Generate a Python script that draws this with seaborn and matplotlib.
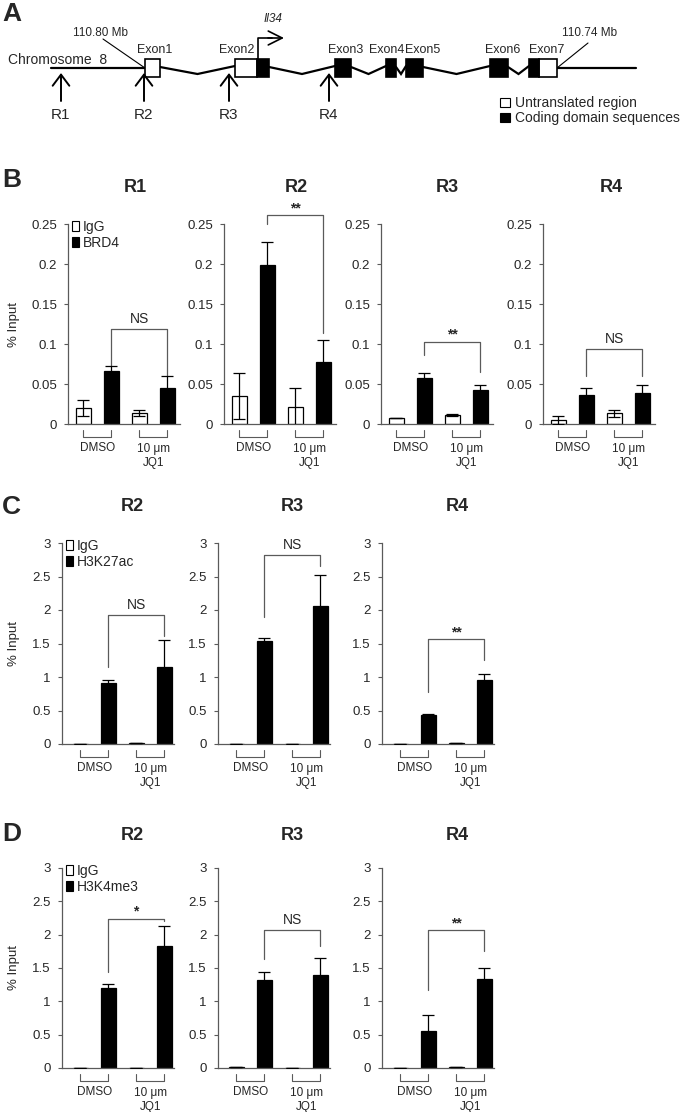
import numpy as np
import pandas as pd
import seaborn as sns
import matplotlib as mpl
import matplotlib.pyplot as plt
from matplotlib.patches import Rectangle, Patch
from matplotlib.transforms import blended_transform_factory

sns.set_style("white")
mpl.rcParams["font.family"] = ["Liberation Sans", "DejaVu Sans"]

W, H = 685, 1112  # figure size in pixels

# ---------------- data ----------------
# panel A: gene model of Il34 (schematic units = pixels)
exon_names = ["Exon1", "Exon2", "Exon3", "Exon4", "Exon5", "Exon6", "Exon7"]
exon_utr = [(145, 160), (235, 257), None, None, None, None, (539, 557)]
exon_cds = [None, (257, 269), (335, 351), (386, 396), (406, 423), (490, 508), (529, 539)]
exon_label_x = [155, 237, 346, 387, 423, 503, 547]
region_names = ["R1", "R2", "R3", "R4"]
region_x = [61, 144, 229, 329]

# panel B: BRD4 ChIP, values as (DMSO, JQ1)
b_regions = ["R1", "R2", "R3", "R4"]
b_igg = [[0.020, 0.0138], [0.035, 0.0216], [0.0075, 0.0108], [0.0054, 0.0133]]
b_igg_sd = [[0.0095, 0.004], [0.029, 0.023], [0.0005, 0.0012], [0.005, 0.004]]
b_ab = [[0.0658, 0.045], [0.199, 0.0775], [0.057, 0.042], [0.0365, 0.039]]
b_ab_sd = [[0.0063, 0.0146], [0.028, 0.0275], [0.0064, 0.007], [0.0085, 0.010]]
b_sig = ["NS", "**", "**", "NS"]
b_bracket = [(0.119, 0.072, 0.0596), (0.261, 0.25, 0.114), (0.103, 0.086, 0.0655), (0.094, 0.060, 0.060)]

# panel C: H3K27ac ChIP
c_regions = ["R2", "R3", "R4"]
c_igg = [[0.005, 0.01], [0.005, 0.005], [0.005, 0.015]]
c_igg_sd = [[0.002, 0.002], [0.002, 0.002], [0.002, 0.002]]
c_ab = [[0.907, 1.156], [1.53, 2.06], [0.427, 0.95]]
c_ab_sd = [[0.05, 0.39], [0.05, 0.46], [0.025, 0.095]]
c_sig = ["NS", "NS", "**"]
c_bracket = [(1.93, 1.156, 1.61), (2.82, 1.89, 2.65), (1.56, 0.77, 1.25)]

# panel D: H3K4me3 ChIP
d_regions = ["R2", "R3", "R4"]
d_igg = [[0.005, 0.005], [0.01, 0.005], [0.005, 0.015]]
d_igg_sd = [[0.002, 0.002], [0.002, 0.002], [0.002, 0.002]]
d_ab = [[1.2, 1.825], [1.315, 1.40], [0.55, 1.34]]
d_ab_sd = [[0.065, 0.30], [0.125, 0.255], [0.25, 0.165]]
d_sig = ["*", "NS", "**"]
d_bracket = [(2.24, 1.44, 2.2), (2.075, 1.64, 1.825), (2.065, 1.165, 1.755)]

b_ticks = [0, 0.05, 0.1, 0.15, 0.2, 0.25]
cd_ticks = [0, 0.5, 1, 1.5, 2, 2.5, 3]

AXC = "#5a5a5a"
AX_W = 112

fig = plt.figure(figsize=(W / 100, H / 100), dpi=100)


def add_ax(left, top, width, height):
    return fig.add_axes([left / W, 1 - (top + height) / H, width / W, height / H])


def chip_bars(ax, igg, igg_sd, ab, ab_sd, ab_name, ticks, xlim, sig, bracket, legend, left):
    df = pd.DataFrame({
        "bar": ["IgG DMSO", ab_name + " DMSO", "IgG JQ1", ab_name + " JQ1"],
        "antibody": ["IgG", ab_name, "IgG", ab_name],
        "value": [igg[0], ab[0], igg[1], ab[1]],
    })
    sd = [igg_sd[0], ab_sd[0], igg_sd[1], ab_sd[1]]
    sns.barplot(data=df, x="bar", y="value", hue="antibody",
                palette={"IgG": "white", ab_name: "black"}, dodge=False,
                width=0.55, saturation=1, edgecolor="black", linewidth=0.9,
                errorbar=None, legend=False, ax=ax)
    ax.errorbar(np.arange(4), df["value"], yerr=sd, fmt="none", ecolor="black",
                elinewidth=0.9, capsize=4, capthick=0.9, zorder=3)
    ax.set_xlim(*xlim)
    ax.set_ylim(0, ticks[-1])
    ax.set_yticks(ticks)
    ax.set_yticklabels(["%g" % t for t in ticks])
    ax.set_xticks([])
    ax.set_xlabel("")
    ax.set_ylabel("")
    sns.despine(ax=ax)
    for s in ["left", "bottom"]:
        ax.spines[s].set_color(AXC)
        ax.spines[s].set_linewidth(0.9)
    ax.tick_params(axis="y", left=True, direction="out", length=3, width=0.8,
                   color=AXC, labelsize=9.5, pad=5)

    # significance bracket between the two antibody bars
    yb, yl, yr = bracket
    ax.plot([1, 1, 3, 3], [yl, yb, yb, yr], color=AXC, lw=0.9, clip_on=False)
    if "*" in sig:
        ax.annotate(sig, xy=(2, yb), xytext=(0, 5), textcoords="offset points",
                    ha="center", va="center", fontsize=10, fontweight="bold",
                    annotation_clip=False)
    else:
        ax.annotate(sig, xy=(2, yb), xytext=(0, 7), textcoords="offset points",
                    ha="center", va="center", fontsize=10, annotation_clip=False)

    # treatment brackets under the axis
    tr = blended_transform_factory(ax.transData, ax.transAxes)
    for i, j in [(0, 1), (2, 3)]:
        ax.plot([i, i, j, j], [-0.03, -0.065, -0.065, -0.03], transform=tr,
                color=AXC, lw=0.8, clip_on=False)
    ax.text(0.5, -0.12, "DMSO", transform=tr, ha="center", va="center", fontsize=8.5)
    ax.text(2.5, -0.125, "10 μm", transform=tr, ha="center", va="center", fontsize=8.5)
    ax.text(2.5, -0.195, "JQ1", transform=tr, ha="center", va="center", fontsize=8.5)

    if legend:
        handles = [Patch(facecolor="white", edgecolor="black", lw=0.8),
                   Patch(facecolor="black", edgecolor="black", lw=0.8)]
        ax.legend(handles, ["IgG", ab_name], loc="upper left",
                  bbox_to_anchor=(0.04, 1.02), frameon=False, fontsize=10,
                  handlelength=0.45, handleheight=0.75, handletextpad=0.3,
                  labelspacing=0.15, borderpad=0, borderaxespad=0)
        ax.set_ylabel("% Input", fontsize=9.5)
        ax.yaxis.set_label_coords((20 - left) / AX_W, 0.5)


# ---------------- panel A ----------------
axa = add_ax(0, 0, W, 165)
axa.set_xlim(0, W)
axa.set_ylim(165, 0)
axa.axis("off")

LINE_Y = 68
axa.plot([51, exon_utr[0][0]], [LINE_Y, LINE_Y], color="black", lw=1.6)
axa.plot([exon_utr[-1][1], 636], [LINE_Y, LINE_Y], color="black", lw=1.6)

starts = [min(s[0] for s in (u, c) if s) for u, c in zip(exon_utr, exon_cds)]
ends = [max(s[1] for s in (u, c) if s) for u, c in zip(exon_utr, exon_cds)]
for i in range(len(exon_names) - 1):
    x0, x1 = ends[i], starts[i + 1]
    axa.plot([x0, (x0 + x1) / 2, x1], [67, 74, 66], color="black", lw=1.6,
             solid_joinstyle="miter")

for u, c in zip(exon_utr, exon_cds):
    for span, fc in [(u, "white"), (c, "black")]:
        if span:
            axa.add_patch(Rectangle((span[0], 59), span[1] - span[0], 18,
                                    facecolor=fc, edgecolor="black", lw=1.2, zorder=3))
for name, x in zip(exon_names, exon_label_x):
    axa.text(x, 50, name, ha="center", va="center", fontsize=9)

axa.text(8, 60, "Chromosome  8", ha="left", va="center", fontsize=10)
axa.plot([103, 145], [39, 68], color="black", lw=0.8)
axa.text(73, 33, "110.80 Mb", ha="left", va="center", fontsize=8.5)
axa.plot([557, 588], [68, 43], color="black", lw=0.8)
axa.text(562, 33, "110.74 Mb", ha="left", va="center", fontsize=8.5)

# transcription start arrow
axa.plot([258, 258, 272], [59, 38, 38], color="black", lw=1.2)
axa.annotate("", xy=(284, 38), xytext=(268, 38),
             arrowprops=dict(arrowstyle="->,head_length=1.0,head_width=0.5",
                             lw=1.2, color="black", shrinkA=0, shrinkB=0))
axa.text(273, 19, "Il34", ha="center", va="center", fontsize=8.5, style="italic")

for name, x in zip(region_names, region_x):
    axa.annotate("", xy=(x, 73), xytext=(x, 101),
                 arrowprops=dict(arrowstyle="->,head_length=0.8,head_width=0.6",
                                 lw=1.4, color="black", shrinkA=0, shrinkB=0))
    axa.text(x, 115, name, ha="center", va="center", fontsize=11)

axa.add_patch(Rectangle((500, 98), 10, 9, facecolor="white", edgecolor="black", lw=0.8))
axa.text(515, 103, "Untranslated region", ha="left", va="center", fontsize=10)
axa.add_patch(Rectangle((500, 113), 10, 9, facecolor="black", edgecolor="black", lw=0.8))
axa.text(515, 118, "Coding domain sequences", ha="left", va="center", fontsize=10)

# ---------------- panels B-D ----------------
b_left = [68, 224, 381, 543]
cd_left = [62, 218, 382]
b_title_x = [135, 296, 447, 611]
cd_title_x = [132, 292, 457]

for k in range(4):
    ax = add_ax(b_left[k], 224, AX_W, 200)
    chip_bars(ax, b_igg[k], b_igg_sd[k], b_ab[k], b_ab_sd[k], "BRD4", b_ticks,
              (-0.55, 3.45), b_sig[k], b_bracket[k], k == 0, b_left[k])
    fig.text(b_title_x[k] / W, 1 - 187 / H, b_regions[k], ha="center", va="center",
             fontsize=13, fontweight="bold")

for k in range(3):
    ax = add_ax(cd_left[k], 543, AX_W, 201)
    chip_bars(ax, c_igg[k], c_igg_sd[k], c_ab[k], c_ab_sd[k], "H3K27ac", cd_ticks,
              (-0.65, 3.35), c_sig[k], c_bracket[k], k == 0, cd_left[k])
    fig.text(cd_title_x[k] / W, 1 - 507 / H, c_regions[k], ha="center", va="center",
             fontsize=13, fontweight="bold")

    ax = add_ax(cd_left[k], 868, AX_W, 200)
    chip_bars(ax, d_igg[k], d_igg_sd[k], d_ab[k], d_ab_sd[k], "H3K4me3", cd_ticks,
              (-0.65, 3.35), d_sig[k], d_bracket[k], k == 0, cd_left[k])
    fig.text(cd_title_x[k] / W, 1 - 836 / H, d_regions[k], ha="center", va="center",
             fontsize=13, fontweight="bold")

for letter, y in [("A", 14), ("B", 180), ("C", 507), ("D", 834)]:
    fig.text(2 / W, 1 - y / H, letter, ha="left", va="center", fontsize=19,
             fontweight="bold")

fig.savefig("out.png", dpi=100)
